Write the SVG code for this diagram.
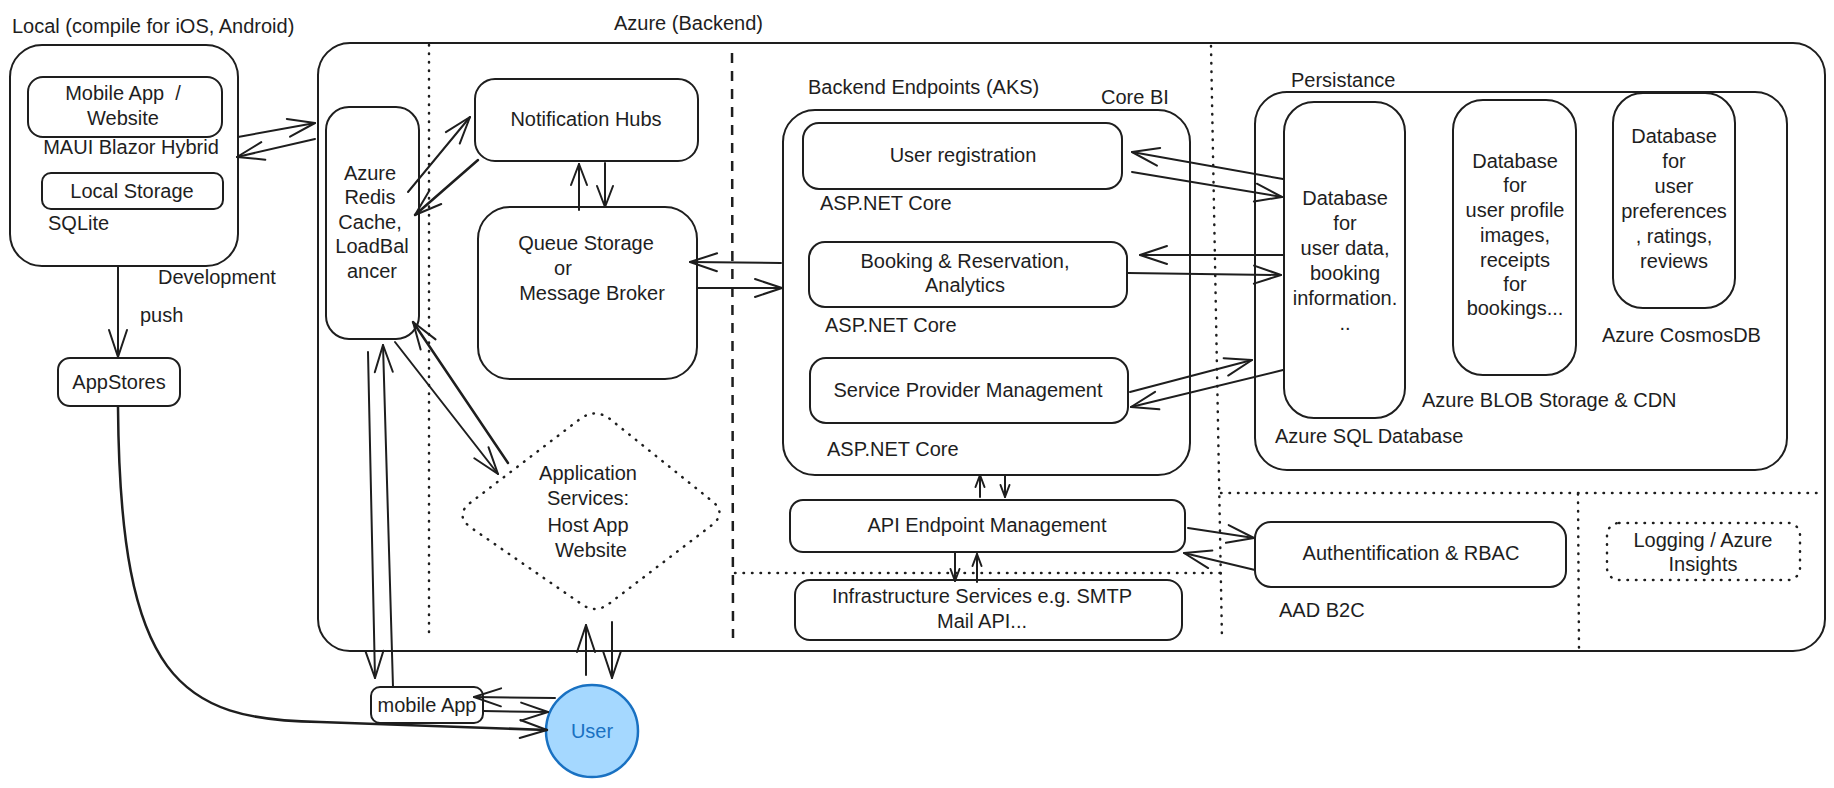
<svg xmlns="http://www.w3.org/2000/svg" width="1834" height="788" viewBox="0 0 1834 788">
<style>
.t{font-family:"Liberation Sans",Arial,sans-serif;font-size:20px;fill:#1e1e1e}
.c{text-anchor:middle}
.b{fill:none;stroke:#1e1e1e;stroke-width:2}
.dot{fill:none;stroke:#1e1e1e;stroke-width:2.5;stroke-dasharray:0.5 8;stroke-linecap:round}
.dash{fill:none;stroke:#1e1e1e;stroke-width:2.5;stroke-dasharray:10 8}
</style>
<defs>
<marker id="ah" markerUnits="userSpaceOnUse" viewBox="-30 -12 34 24" refX="0" refY="0" markerWidth="34" markerHeight="24" orient="auto">
<path d="M-27,-9 L0,0 L-27,9" fill="none" stroke="#1e1e1e" stroke-width="2" stroke-linecap="round" stroke-linejoin="round"/>
</marker>
<marker id="am" markerUnits="userSpaceOnUse" viewBox="-24 -10 28 20" refX="0" refY="0" markerWidth="28" markerHeight="20" orient="auto">
<path d="M-21,-8 L0,0 L-21,8" fill="none" stroke="#1e1e1e" stroke-width="2" stroke-linecap="round" stroke-linejoin="round"/>
</marker>
<marker id="as" markerUnits="userSpaceOnUse" viewBox="-15 -7 18 14" refX="0" refY="0" markerWidth="18" markerHeight="14" orient="auto">
<path d="M-12,-4.5 L0,0 L-12,4.5" fill="none" stroke="#1e1e1e" stroke-width="2" stroke-linecap="round" stroke-linejoin="round"/>
</marker>
</defs>
<rect width="1834" height="788" fill="#ffffff"/>

<!-- Local area -->
<g id="local">
<text class="t" x="12" y="33">Local (compile for iOS, Android)</text>
<rect class="b" x="10" y="45" width="228" height="221" rx="32"/>
<text class="t" x="158" y="284">Development</text>
</g>
<g id="mobile-website">
<rect class="b" x="28" y="77" width="194" height="60" rx="15"/>
<text class="t c" x="123" y="100" xml:space="preserve">Mobile App  /</text>
<text class="t c" x="123" y="125">Website</text>
<text class="t c" x="131" y="154">MAUI Blazor Hybrid</text>
</g>
<g id="local-storage">
<rect class="b" x="42" y="173" width="181" height="36" rx="9"/>
<text class="t c" x="132" y="198">Local Storage</text>
<text class="t" x="48" y="230">SQLite</text>
</g>
<g id="appstores">
<rect class="b" x="58" y="358" width="122" height="48" rx="12"/>
<text class="t c" x="119" y="389">AppStores</text>
<text class="t" x="140" y="322">push</text>
</g>

<!-- Azure container -->
<g id="azure">
<text class="t" x="614" y="30">Azure (Backend)</text>
<rect class="b" x="318" y="43" width="1507" height="608" rx="32"/>
<line class="dot" x1="429" y1="45" x2="429" y2="636"/>
<line class="dash" x1="732" y1="53" x2="733" y2="638"/>
<line class="dot" x1="1211" y1="46" x2="1222" y2="640"/>
<line class="dot" x1="735" y1="573" x2="1220" y2="573"/>
<line class="dot" x1="1221" y1="493" x2="1822" y2="493"/>
<line class="dot" x1="1578" y1="494" x2="1579" y2="650"/>
</g>

<g id="redis">
<rect class="b" x="326" y="107" width="93" height="232" rx="23"/>
<text class="t c" x="370" y="180">Azure</text>
<text class="t c" x="370" y="204">Redis</text>
<text class="t c" x="370" y="229">Cache,</text>
<text class="t c" x="372" y="253">LoadBal</text>
<text class="t c" x="372" y="278">ancer</text>
</g>

<g id="notification-hubs">
<rect class="b" x="475" y="79" width="223" height="82" rx="20"/>
<text class="t c" x="586" y="126">Notification Hubs</text>
</g>

<g id="queue">
<rect class="b" x="478" y="207" width="219" height="172" rx="32"/>
<text class="t c" x="586" y="250">Queue Storage</text>
<text class="t c" x="563" y="275">or</text>
<text class="t c" x="592" y="300">Message Broker</text>
</g>

<g id="app-services">
<path class="dot" d="M470,503 L580,419 Q595,408 610,419 L712,501 Q727,513 712,525 L610,603 Q595,615 580,603 L470,527 Q455,515 470,503 Z"/>
<text class="t c" x="588" y="480">Application</text>
<text class="t c" x="588" y="505">Services:</text>
<text class="t c" x="588" y="532">Host App</text>
<text class="t c" x="591" y="557">Website</text>
</g>

<g id="backend">
<text class="t" x="808" y="94">Backend Endpoints (AKS)</text>
<text class="t" x="1101" y="104">Core BI</text>
<rect class="b" x="783" y="110" width="407" height="365" rx="32"/>
</g>
<g id="user-registration">
<rect class="b" x="803" y="123" width="319" height="66" rx="16"/>
<text class="t c" x="963" y="162">User registration</text>
<text class="t" x="820" y="210">ASP.NET Core</text>
</g>
<g id="booking">
<rect class="b" x="809" y="242" width="318" height="65" rx="16"/>
<text class="t c" x="965" y="268">Booking &amp; Reservation,</text>
<text class="t c" x="965" y="292">Analytics</text>
<text class="t" x="825" y="332">ASP.NET Core</text>
</g>
<g id="service-provider">
<rect class="b" x="810" y="358" width="318" height="65" rx="16"/>
<text class="t c" x="968" y="397">Service Provider Management</text>
<text class="t" x="827" y="456">ASP.NET Core</text>
</g>
<g id="api-endpoint">
<rect class="b" x="790" y="500" width="395" height="52" rx="13"/>
<text class="t c" x="987" y="532">API Endpoint Management</text>
</g>
<g id="infrastructure">
<rect class="b" x="795" y="580" width="387" height="60" rx="15"/>
<text class="t c" x="982" y="603">Infrastructure Services e.g. SMTP</text>
<text class="t c" x="982" y="628">Mail API...</text>
</g>

<g id="persistance">
<text class="t" x="1291" y="87">Persistance</text>
<rect class="b" x="1255" y="92" width="532" height="378" rx="32"/>
</g>
<g id="sql-db">
<rect class="b" x="1284" y="102" width="121" height="316" rx="30"/>
<text class="t c" x="1345" y="205">Database</text>
<text class="t c" x="1345" y="230">for</text>
<text class="t c" x="1345" y="255">user data,</text>
<text class="t c" x="1345" y="280">booking</text>
<text class="t c" x="1345" y="305">information.</text>
<text class="t c" x="1345" y="330">..</text>
<text class="t" x="1275" y="443">Azure SQL Database</text>
</g>
<g id="blob">
<rect class="b" x="1453" y="100" width="123" height="275" rx="30"/>
<text class="t c" x="1515" y="168">Database</text>
<text class="t c" x="1515" y="192">for</text>
<text class="t c" x="1515" y="217">user profile</text>
<text class="t c" x="1515" y="242">images,</text>
<text class="t c" x="1515" y="267">receipts</text>
<text class="t c" x="1515" y="291">for</text>
<text class="t c" x="1515" y="315">bookings...</text>
<text class="t" x="1422" y="407">Azure BLOB Storage &amp; CDN</text>
</g>
<g id="cosmos">
<rect class="b" x="1613" y="93" width="122" height="215" rx="30"/>
<text class="t c" x="1674" y="143">Database</text>
<text class="t c" x="1674" y="168">for</text>
<text class="t c" x="1674" y="193">user</text>
<text class="t c" x="1674" y="218">preferences</text>
<text class="t c" x="1674" y="243">, ratings,</text>
<text class="t c" x="1674" y="268">reviews</text>
<text class="t" x="1602" y="342">Azure CosmosDB</text>
</g>

<g id="auth">
<rect class="b" x="1255" y="522" width="311" height="65" rx="16"/>
<text class="t c" x="1411" y="560">Authentification &amp; RBAC</text>
<text class="t" x="1279" y="617">AAD B2C</text>
</g>
<g id="logging">
<rect class="dot" x="1607" y="523" width="193" height="57" rx="12"/>
<text class="t c" x="1703" y="547">Logging / Azure</text>
<text class="t c" x="1703" y="571">Insights</text>
</g>

<g id="mobile-app">
<rect class="b" x="371" y="687" width="112" height="36" rx="9"/>
<text class="t c" x="427" y="712">mobile App</text>
</g>
<g id="user">
<circle cx="592" cy="731" r="46" fill="#a5d8ff" stroke="#1971c2" stroke-width="2.5"/>
<text class="t c" x="592" y="738" style="fill:#1971c2">User</text>
</g>

<g id="connectors" fill="none" stroke="#1e1e1e" stroke-width="2" stroke-linecap="round">
<path d="M238,137 L315,123" marker-end="url(#ah)"/>
<path d="M315,139 L237,157" marker-end="url(#ah)"/>
<path d="M118,266 L118,357" marker-end="url(#ah)"/>
<path d="M118,407 C120,680 180,720 320,722 L547,730" marker-end="url(#ah)" stroke-width="2.5"/>
<path d="M408,192 L470,117" marker-end="url(#ah)"/>
<path d="M478,160 L415,215" marker-end="url(#ah)" stroke-width="2.5"/>
<path d="M579,210 L579,164" marker-end="url(#am)"/>
<path d="M605,163 L605,207" marker-end="url(#am)"/>
<path d="M781,263 L690,262" marker-end="url(#ah)"/>
<path d="M698,288 L782,288" marker-end="url(#ah)"/>
<path d="M368,352 L375,678" marker-end="url(#ah)"/>
<path d="M393,687 L383,345" marker-end="url(#ah)"/>
<path d="M395,342 L498,474" marker-end="url(#ah)"/>
<path d="M508,463 L413,322" marker-end="url(#ah)" stroke-width="2.5"/>
<path d="M586,675 L586,625" marker-end="url(#ah)"/>
<path d="M612,622 L612,678" marker-end="url(#ah)"/>
<path d="M555,698 L474,697" marker-end="url(#ah)"/>
<path d="M483,711 L548,712" marker-end="url(#ah)"/>
<path d="M1283,179 L1132,152" marker-end="url(#ah)"/>
<path d="M1132,172 L1282,197" marker-end="url(#ah)"/>
<path d="M1283,255 L1140,255" marker-end="url(#ah)"/>
<path d="M1128,273 L1281,275" marker-end="url(#ah)"/>
<path d="M1130,392 L1252,360" marker-end="url(#ah)"/>
<path d="M1283,370 L1131,407" marker-end="url(#ah)"/>
<path d="M980,497 L980,475" marker-end="url(#as)"/>
<path d="M1005,475 L1005,497" marker-end="url(#as)"/>
<path d="M955,553 L955,581" marker-end="url(#as)"/>
<path d="M977,582 L977,554" marker-end="url(#as)"/>
<path d="M1188,528 L1254,538" marker-end="url(#ah)"/>
<path d="M1255,570 L1184,553" marker-end="url(#ah)"/>
</g>
</svg>
